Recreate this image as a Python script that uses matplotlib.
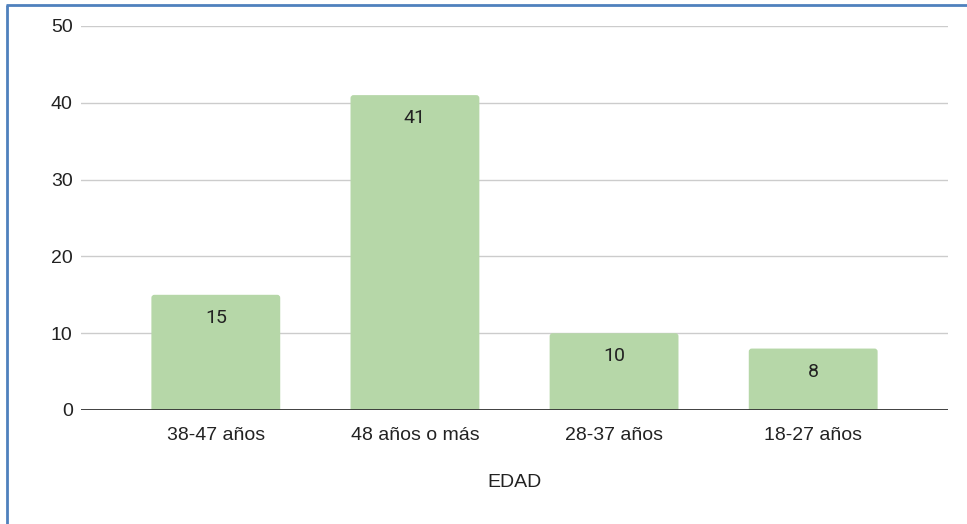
import matplotlib
matplotlib.use("Agg")
import matplotlib.pyplot as plt
from matplotlib.lines import Line2D
from matplotlib.patches import FancyBboxPatch

categories = ["38-47 años", "48 años o más", "28-37 años", "18-27 años"]
values = [15, 41, 10, 8]
y_ticks = [0, 10, 20, 30, 40, 50]
x_title = "EDAD"

W, H, DPI = 967, 524, 100
fig = plt.figure(figsize=(W / DPI, H / DPI), dpi=DPI)
fig.patch.set_facecolor("white")

ax_left, ax_right, ax_top, ax_bottom = 81, 948, 26, 410
ax = fig.add_axes([ax_left / W, 1 - ax_bottom / H, (ax_right - ax_left) / W, (ax_bottom - ax_top) / H])
ax.set_facecolor("white")

pad_x = 0.677
ax.set_xlim(-pad_x, len(categories) - 1 + pad_x)
ax.set_ylim(0, 50)

# pixel scale of each axis, used for the rounded bar tops
px_per_x = (ax_right - ax_left) / (len(categories) - 1 + 2 * pad_x)
px_per_y = (ax_bottom - ax_top) / 50
radius_px = 3
r_x = radius_px / px_per_x
aspect = px_per_x / px_per_y

bar_w = 0.647
x = list(range(len(categories)))
for xi, v in zip(x, values):
    r_y = r_x * aspect
    patch = FancyBboxPatch((xi - bar_w / 2, -r_y), bar_w, v + r_y,
                           boxstyle=f"round,pad=0,rounding_size={r_x}",
                           mutation_aspect=aspect, facecolor="#b6d7a8",
                           edgecolor="none", zorder=3, clip_on=True)
    ax.add_patch(patch)
    ax.annotate(str(v), (xi, v), xytext=(0, -23), textcoords="offset pixels",
                ha="center", va="center", fontsize=14, color="#222222",
                family="Roboto", zorder=4)

ax.set_yticks(y_ticks)
ax.set_xticks(x)
ax.set_xticklabels(categories)

ax.grid(axis="y", color="#cccccc", linewidth=1.0, zorder=0)
ax.axhline(0, color="#333333", linewidth=1.3, zorder=5)
for s in ax.spines.values():
    s.set_visible(False)
ax.tick_params(axis="both", length=0, labelsize=14, labelcolor="#222222")
ax.tick_params(axis="y", pad=6)
ax.tick_params(axis="x", pad=12)
for lbl in ax.get_xticklabels() + ax.get_yticklabels():
    lbl.set_family("Liberation Sans")

ax.set_xlabel(x_title, fontsize=14, family="Liberation Sans", color="#222222", labelpad=22)

# frame drawn along the top and left edges
border = "#4f81bd"
fig.add_artist(Line2D([6.5 / W, 6.5 / W], [0, 1 - 4.5 / H], transform=fig.transFigure,
                      color=border, linewidth=2.0, solid_capstyle="butt"))
fig.add_artist(Line2D([6 / W, 1], [1 - 4.5 / H, 1 - 4.5 / H], transform=fig.transFigure,
                      color=border, linewidth=2.0, solid_capstyle="butt"))

fig.savefig("out.png", dpi=DPI)
